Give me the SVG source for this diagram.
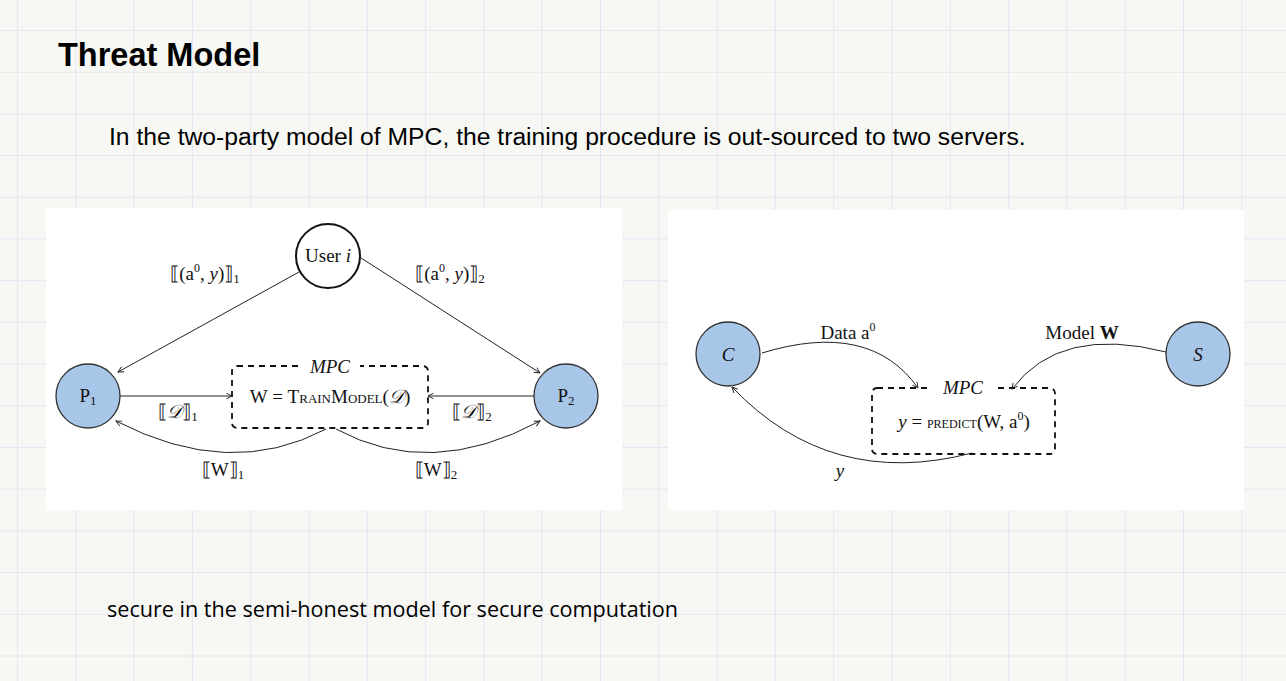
<svg xmlns="http://www.w3.org/2000/svg" width="1286" height="681" viewBox="0 0 1286 681">
<defs>
<pattern id="grid" x="17" y="30" width="58.3" height="41.7" patternUnits="userSpaceOnUse">
<path d="M0 0V41.7M0 0H58.3" fill="none" stroke="#e2e0f2" stroke-width="1.5"/>
</pattern>
<marker id="ah" viewBox="0 0 10 10" refX="9" refY="5" markerWidth="7" markerHeight="7" orient="auto" markerUnits="userSpaceOnUse">
<path d="M1 1L9 5L1 9" fill="none" stroke="#222" stroke-width="1.3"/>
</marker>
</defs>
<style>
.node{fill:#a8c6e8;stroke:#333;stroke-width:1.3}
.wnode{fill:#fff;stroke:#111;stroke-width:2}
.box{fill:none;stroke:#111;stroke-width:1.8;stroke-dasharray:6 5}
.edge{fill:none;stroke:#222;stroke-width:1;marker-end:url(#ah)}
.t{font-family:"Liberation Serif","DejaVu Serif",serif;font-size:19px;fill:#111;text-anchor:middle}
.lbl{font-family:"Liberation Serif","DejaVu Serif",serif;font-size:19px;fill:#111;text-anchor:middle}
</style>
<rect width="1286" height="681" fill="#f7f8f4"/>
<rect width="1286" height="681" fill="url(#grid)"/>
<text x="58" y="66" font-family="Liberation Sans,Arial,sans-serif" font-weight="bold" font-size="32.5" fill="#000">Threat Model</text>
<text x="109" y="145" font-family="Liberation Sans,Arial,sans-serif" font-size="24.7" fill="#000">In the two-party model of MPC, the training procedure is out-sourced to two servers.</text>
<text x="107" y="617" font-family="Open Sans,sans-serif" font-size="21.6" fill="#000">secure in the semi-honest model for secure computation</text>
<rect x="46" y="208" width="576" height="302" fill="#fff"/>
<rect x="668" y="210" width="576" height="300" fill="#fff"/>
<g id="connectors">
<path class="edge" d="M299 272L118 372"/>
<path class="edge" d="M358 256L540 373"/>
<path class="edge" d="M120 396L232 396"/>
<path class="edge" d="M534 396L428 396"/>
<path class="edge" d="M326 429Q230 480 116 421"/>
<path class="edge" d="M336 429Q430 480 540 421"/>
<path class="edge" d="M762 353Q870 320 918 388"/>
<path class="edge" d="M1166 352Q1060 325 1012 389"/>
<path class="edge" d="M972 453Q830 490 732 387"/>
</g>
<g id="labels">
<text class="lbl" x="205" y="280">⟦(a<tspan dy="-8" font-size="12">0</tspan><tspan dy="8">, </tspan><tspan font-style="italic">y</tspan>)⟧<tspan font-size="13" dy="3">1</tspan></text>
<text class="lbl" x="450" y="280">⟦(a<tspan dy="-8" font-size="12">0</tspan><tspan dy="8">, </tspan><tspan font-style="italic">y</tspan>)⟧<tspan font-size="13" dy="3">2</tspan></text>
<text class="lbl" x="178" y="418">⟦<tspan font-style="italic">𝒟</tspan>⟧<tspan font-size="13" dy="3">1</tspan></text>
<text class="lbl" x="472" y="418">⟦<tspan font-style="italic">𝒟</tspan>⟧<tspan font-size="13" dy="3">2</tspan></text>
<text class="lbl" x="223" y="476">⟦W⟧<tspan font-size="13" dy="3">1</tspan></text>
<text class="lbl" x="436" y="476">⟦W⟧<tspan font-size="13" dy="3">2</tspan></text>
<text class="lbl" x="848" y="339">Data a<tspan dy="-8" font-size="12">0</tspan></text>
<text class="lbl" x="1082" y="339">Model <tspan font-weight="bold">W</tspan></text>
<text class="lbl" x="840" y="477" font-style="italic">y</text>
</g>
<g id="user">
<circle class="wnode" cx="328" cy="256" r="32"/>
<text class="t" x="328" y="262">User <tspan font-style="italic">i</tspan></text>
</g>
<g id="p1">
<circle class="node" cx="88" cy="396" r="32"/>
<text class="t" x="88" y="402" font-family="Liberation Sans,sans-serif">P<tspan font-size="13" dy="3">1</tspan></text>
</g>
<g id="p2">
<circle class="node" cx="566" cy="396" r="32"/>
<text class="t" x="566" y="402" font-family="Liberation Sans,sans-serif">P<tspan font-size="13" dy="3">2</tspan></text>
</g>
<g id="mpc1">
<rect class="box" x="232" y="366" width="196" height="62" rx="5"/>
<rect x="300" y="356" width="60" height="20" fill="#fff"/>
<text class="t" x="330" y="373" font-style="italic">MPC</text>
<text class="t" x="330" y="403">W = <tspan font-variant="small-caps">TrainModel</tspan>(<tspan font-style="italic">𝒟</tspan>)</text>
</g>
<g id="c">
<circle class="node" cx="728" cy="354" r="32"/>
<text class="t" x="728" y="361" font-style="italic" font-size="21">C</text>
</g>
<g id="s">
<circle class="node" cx="1198" cy="354" r="32"/>
<text class="t" x="1198" y="361" font-style="italic" font-size="21">S</text>
</g>
<g id="mpc2">
<rect class="box" x="872" y="388" width="183" height="66" rx="5"/>
<rect x="930" y="378" width="66" height="20" fill="#fff"/>
<text class="t" x="963" y="394" font-style="italic">MPC</text>
<text class="t" x="964" y="428"><tspan font-style="italic">y</tspan> = <tspan font-variant="small-caps" font-size="17">predict</tspan>(W, a<tspan dy="-8" font-size="12">0</tspan><tspan dy="8">)</tspan></text>
</g>
</svg>
